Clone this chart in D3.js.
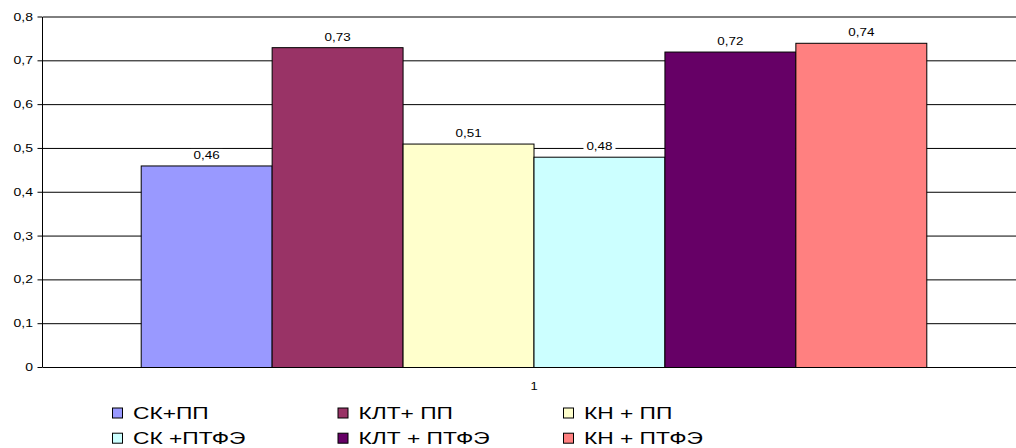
<!DOCTYPE html>
<html>
<head>
<meta charset="utf-8">
<script src="https://cdn.jsdelivr.net/npm/d3@7"></script>
<style>
  html, body { margin: 0; padding: 0; background: #fff; }
  svg { display: block; font-family: "Liberation Sans", Arial, sans-serif; }
</style>
</head>
<body>
<svg id="chart" width="1016" height="448"></svg>
<script>
// Data
const categories = ["1"];
const seriesNames = ["СК+ПП", "КЛТ+ ПП", "КН + ПП", "СК +ПТФЭ", "КЛТ + ПТФЭ", "КН + ПТФЭ"];
const seriesValues = [0.46, 0.73, 0.51, 0.48, 0.72, 0.74];
const seriesColors = ["#9999FF", "#993366", "#FFFFCC", "#CCFFFF", "#660066", "#FF8080"];
const yTicks = [0, 0.1, 0.2, 0.3, 0.4, 0.5, 0.6, 0.7, 0.8];

const fmt = v => d3.format(".2~f")(v).replace(".", ",");
const fmtTick = v => (v === 0 ? "0" : d3.format(".1f")(v).replace(".", ","));

const svg = d3.select("#chart");
const plotLeft = 43, plotRight = 1025, plotTop = 17, plotBottom = 367.5;

const y = d3.scaleLinear().domain([0, 0.8]).range([plotBottom, plotTop]);
const x0 = d3.scaleBand().domain(categories).range([plotLeft, plotRight])
  .paddingInner(0).paddingOuter(0.125);
const x1 = d3.scaleBand().domain(seriesNames).range([0, x0.bandwidth()]);

// Text with horizontal stretch
function wideText(g, x, yPos, str, size, sx, anchor) {
  return g.append("text")
    .attr("transform", `translate(${x},${yPos}) scale(${sx},1)`)
    .attr("text-anchor", anchor)
    .attr("font-size", size)
    .attr("fill", "#000")
    .text(str);
}

// Gridlines
svg.append("g").selectAll("line").data(yTicks.slice(1)).join("line")
  .attr("x1", plotLeft).attr("x2", plotRight)
  .attr("y1", d => y(d)).attr("y2", d => y(d))
  .attr("stroke", "#000").attr("stroke-width", 1);

// Bars
const barG = svg.append("g");
categories.forEach(cat => {
  seriesNames.forEach((s, i) => {
    barG.append("rect")
      .attr("x", x0(cat) + x1(s))
      .attr("y", y(seriesValues[i]))
      .attr("width", x1.bandwidth())
      .attr("height", y(0) - y(seriesValues[i]))
      .attr("fill", seriesColors[i])
      .attr("stroke", "#000").attr("stroke-width", 1);
  });
});

// Value labels with white backing
const labG = svg.append("g");
categories.forEach(cat => {
  seriesNames.forEach((s, i) => {
    const cx = x0(cat) + x1(s) + x1.bandwidth() / 2;
    const cy = y(seriesValues[i]) - 11;
    labG.append("rect")
      .attr("x", cx - 16).attr("y", cy - 6)
      .attr("width", 32).attr("height", 12)
      .attr("fill", "#fff");
    wideText(labG, cx, cy + 4, fmt(seriesValues[i]), 10.5, 1.28, "middle");
  });
});

// Y axis
const yAxisG = svg.append("g");
yAxisG.append("line")
  .attr("x1", 42.5).attr("x2", 42.5).attr("y1", plotTop).attr("y2", plotBottom)
  .attr("stroke", "#000");
yTicks.forEach(t => {
  yAxisG.append("line")
    .attr("x1", 37.5).attr("x2", 42.5).attr("y1", y(t)).attr("y2", y(t))
    .attr("stroke", "#000");
  wideText(yAxisG, 33, y(t) + 3.6, fmtTick(t), 10, 1.4, "end");
});

// X axis
const xAxisG = svg.append("g");
xAxisG.append("line")
  .attr("x1", plotLeft).attr("x2", plotRight).attr("y1", plotBottom).attr("y2", plotBottom)
  .attr("stroke", "#000");
categories.forEach(cat => {
  wideText(xAxisG, x0(cat) + x0.bandwidth() / 2, 390, cat, 10, 1.3, "middle");
});

// Legend
const legendCols = [112, 337.5, 563];
const legendRows = [419, 444.2];
const legG = svg.append("g");
seriesNames.forEach((s, i) => {
  const col = i % 3, row = Math.floor(i / 3);
  const lx = legendCols[col], ly = legendRows[row];
  legG.append("rect")
    .attr("x", lx + 0.5).attr("y", ly - 11)
    .attr("width", 10).attr("height", 10)
    .attr("fill", seriesColors[i]).attr("stroke", "#000");
  wideText(legG, lx + 21, ly, s, 17, 1.34, "start");
});
</script>
</body>
</html>
